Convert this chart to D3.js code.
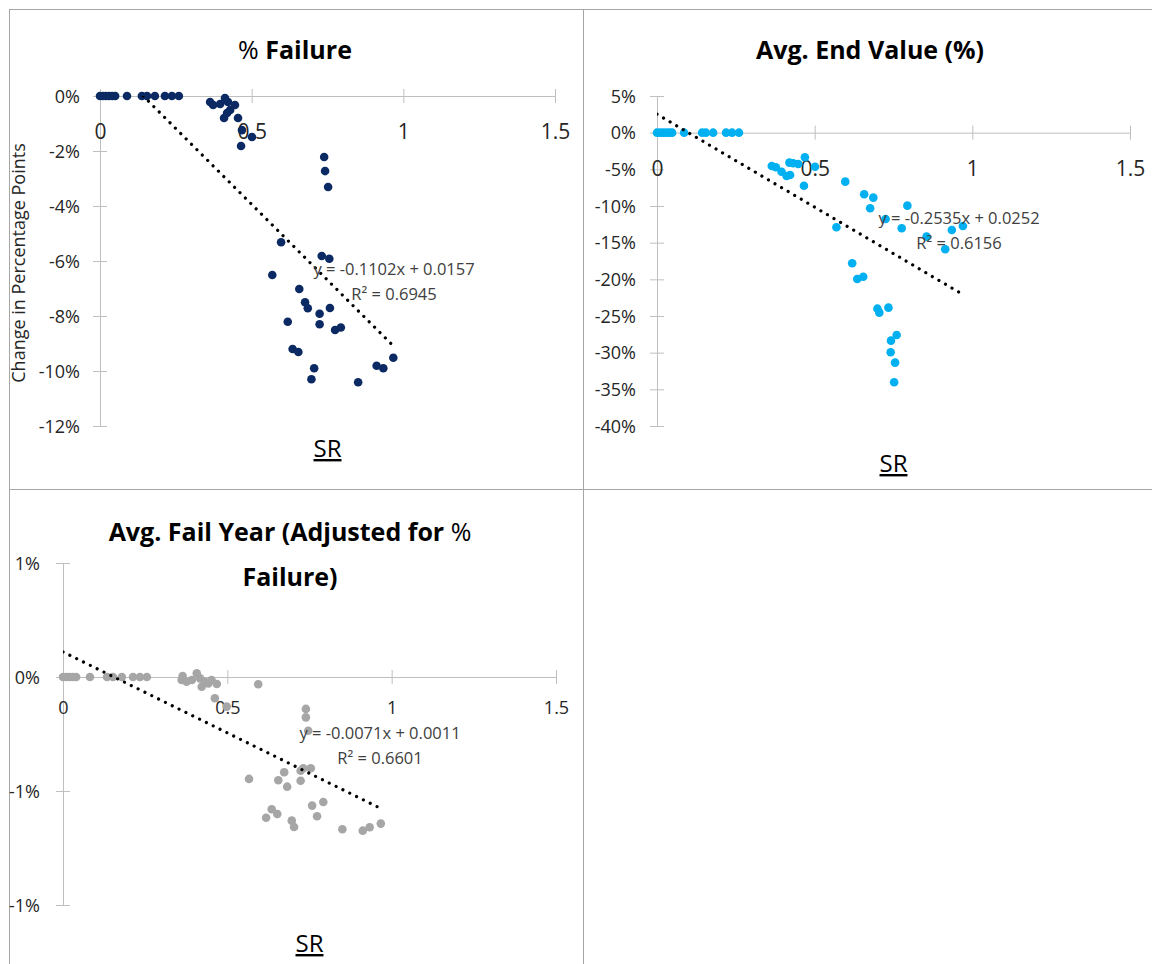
<!DOCTYPE html>
<html><head><meta charset="utf-8">
<script src="https://cdn.jsdelivr.net/npm/d3@7"></script>
<style>body{margin:0;background:#fff}svg{display:block}text{font-family:"Open Sans",Lato,sans-serif}</style>
</head><body>
<svg id="c" width="1152" height="964"></svg>
<script>
// ---------- data ----------
const xTicks = [0, 0.5, 1, 1.5];
const xTickLabels = ["0", "0.5", "1", "1.5"];

// Panel 1: % Failure (percentage points)
const sr1 = [0,0.01,0.02,0.03,0.04,0.05,0.089,0.138,0.155,0.181,0.214,0.237,0.26,
  0.363,0.373,0.396,0.412,0.422,0.429,0.445,0.419,0.409,0.455,0.468,0.501,0.465,
  0.739,0.742,0.752,
  0.597,0.731,0.756,0.568,0.657,0.676,0.685,0.758,0.724,0.619,0.724,0.775,0.794,0.635,0.654,0.967,0.912,0.934,0.706,0.697,0.851];
const fail1 = [0,0,0,0,0,0,0,0,0,0,0,0,0,
  -0.22,-0.33,-0.29,-0.07,-0.22,-0.51,-0.33,-0.62,-0.8,-0.8,-1.24,-1.49,-1.82,
  -2.22,-2.73,-3.31,
  -5.32,-5.82,-5.92,-6.51,-7.02,-7.5,-7.72,-7.71,-7.92,-8.21,-8.3,-8.51,-8.42,-9.2,-9.31,-9.52,-9.81,-9.9,-9.9,-10.3,-10.41];
const yTicks1 = [0,-2,-4,-6,-8,-10,-12];
const yTickLabels1 = ["0%","-2%","-4%","-6%","-8%","-10%","-12%"];
const trend1 = {slope:-0.1102, intercept:0.0157, r2:"0.6945"};

// Panel 2: Avg. End Value (%)
const sr2 = [0,0.01,0.02,0.03,0.04,0.048,0.086,0.143,0.155,0.178,0.219,0.238,0.26,
  0.364,0.377,0.395,0.411,0.422,0.42,0.432,0.448,0.469,0.501,0.466,
  0.597,0.657,0.686,0.676,0.794,0.725,0.776,0.569,0.935,0.97,0.855,0.914,0.619,0.635,0.654,0.699,0.705,0.734,0.76,0.742,0.741,0.755,0.752];
const end2 = [0,0,0,0,0,0,0,0,0,0,0,0,0,
  -4.54,-4.72,-5.32,-5.9,-5.77,-4.09,-4.17,-4.27,-3.35,-4.64,-7.23,
  -6.68,-8.4,-8.86,-10.3,-9.95,-11.77,-13.04,-12.9,-13.27,-12.72,-14.18,-15.9,-17.81,-19.95,-19.64,-24.0,-24.54,-23.86,-27.59,-28.36,-29.94,-31.36,-34.04];
const yTicks2 = [5,0,-5,-10,-15,-20,-25,-30,-35,-40];
const yTickLabels2 = ["5%","0%","-5%","-10%","-15%","-20%","-25%","-30%","-35%","-40%"];
const trend2 = {slope:-0.2535, intercept:0.0252, r2:"0.6156"};

// Panel 3: Avg. Fail Year (Adjusted for % Failure)
const sr3 = [0,0.01,0.02,0.03,0.04,0.082,0.134,0.152,0.179,0.213,0.234,0.255,
  0.364,0.361,0.376,0.392,0.407,0.417,0.422,0.432,0.442,0.452,0.468,0.462,0.498,0.594,
  0.739,0.739,0.746,
  0.566,0.655,0.682,0.673,0.723,0.723,0.731,0.754,0.758,0.792,0.773,0.635,0.652,0.618,0.696,0.703,0.85,0.912,0.933,0.967];
const year3 = [0,0,0,0,0,0,0,0,0,0,0,0,
  0.004,-0.013,-0.021,-0.013,0.016,-0.006,-0.043,-0.021,-0.028,-0.013,-0.031,-0.093,-0.13,-0.032,
  -0.14,-0.177,-0.236,
  -0.447,-0.453,-0.481,-0.418,-0.455,-0.411,-0.4,-0.4,-0.564,-0.548,-0.611,-0.58,-0.601,-0.617,-0.63,-0.658,-0.668,-0.674,-0.659,-0.643];
const yTicks3 = [0.5,0,-0.5,-1];
const yTickLabels3 = ["1%","0%","-1%","-1%"];
const trend3 = {slope:-0.0071, intercept:0.0011, r2:"0.6601"};

const trendXMax = 0.97;

// ---------- drawing ----------
const svg = d3.select("#c");
const grid = "#a6a6a6";
[[9,9.5,1152,9.5],[9.5,9,9.5,964],[583.5,9,583.5,964],[9,489.5,1152,489.5]].forEach(l=>{
  svg.append("line").attr("x1",l[0]).attr("y1",l[1]).attr("x2",l[2]).attr("y2",l[3])
    .attr("stroke",grid).attr("stroke-width",1);
});

function panel(cfg){
  const g = svg.append("g");
  const x = d3.scaleLinear().domain([0,1.5]).range(cfg.xr);
  const y = d3.scaleLinear().domain(cfg.yd).range(cfg.yr);
  const axisCol = "#bfbfbf";
  const ya = g.append("g").attr("transform",`translate(${x(0)},0)`)
    .call(d3.axisLeft(y).tickValues(cfg.yt).tickSizeOuter(0).tickSizeInner(0).tickFormat((d,i)=>cfg.ytl[i]));
  ya.select(".domain").attr("stroke",axisCol);
  ya.selectAll(".tick line").attr("x1",-7).attr("x2",7).attr("stroke",axisCol);
  ya.selectAll(".tick text").attr("x",-cfg.ylabGap).attr("dy","0.35em")
    .style("font-size",cfg.yfs+"px").attr("fill","#262626").style("font-family","'Open Sans',sans-serif");
  const xa = g.append("g").attr("transform",`translate(0,${y(0)})`)
    .call(d3.axisBottom(x).tickValues(xTicks).tickSizeOuter(0).tickSizeInner(0).tickFormat((d,i)=>xTickLabels[i]));
  xa.select(".domain").attr("stroke",axisCol);
  xa.selectAll(".tick line").attr("y1",-7).attr("y2",7).attr("stroke",axisCol);
  xa.selectAll(".tick text").attr("y",cfg.xlabOff).attr("dy","0.35em")
    .style("font-size",cfg.xfs+"px").attr("fill","#262626").style("font-family","'Open Sans',sans-serif");
  const cid = "clip"+cfg.id;
  svg.append("clipPath").attr("id",cid).append("rect")
    .attr("x",cfg.xr[0]).attr("y",cfg.yr[1]).attr("width",cfg.xr[1]-cfg.xr[0]).attr("height",cfg.yr[0]-cfg.yr[1]);
  g.append("g").selectAll("circle").data(cfg.xs.map((v,i)=>[v,cfg.ys[i]])).join("circle")
    .attr("cx",d=>x(d[0])).attr("cy",d=>y(d[1])).attr("r",4.3).attr("fill",cfg.color);
  const t = cfg.trend;
  const tl = [0,trendXMax].map(v=>[v,(t.slope*v+t.intercept)*100]);
  g.append("path").attr("clip-path",`url(#${cid})`)
    .attr("d",d3.line().x(d=>x(d[0])).y(d=>y(d[1]))(tl))
    .attr("fill","none").attr("stroke","#000").attr("stroke-width",3.2)
    .attr("stroke-linecap","round").attr("stroke-dasharray","0.01 7.6");
  const fmt = v=>Math.abs(v).toFixed(4);
  const eq = `y = ${t.slope<0?"-":""}${fmt(t.slope)}x + ${fmt(t.intercept)}`;
  g.append("text").attr("x",cfg.eq[0]).attr("y",cfg.eq[1]).attr("text-anchor","middle")
    .style("font-size","16.5px").attr("fill","#404040").text(eq);
  g.append("text").attr("x",cfg.eq[0]).attr("y",cfg.eq[1]+25).attr("text-anchor","middle")
    .style("font-size","16.5px").attr("fill","#404040").text("R\u00B2 = "+t.r2);
  cfg.title.forEach((parts,i)=>{
    const tx = g.append("text").attr("x",cfg.tpos[0]).attr("y",cfg.tpos[1]+i*45).attr("text-anchor","middle")
      .style("font-size","25px").attr("fill","#000");
    parts.forEach(p=>tx.append("tspan").style("font-weight",p[1]?"bold":"normal").text(p[0]));
  });
  g.append("text").attr("x",(cfg.xr[0]+cfg.xr[1])/2).attr("y",cfg.srY).attr("text-anchor","middle")
    .style("font-size","24px").style("text-decoration","underline").attr("fill","#000").text("SR");
  return g;
}

panel({id:1, xr:[100,555], yd:[-12,0], yr:[426,96], yt:yTicks1, ytl:yTickLabels1,
  xs:sr1, ys:fail1, color:"#0b2a63", trend:trend1, eq:[394,275],
  title:[[["% ",false],["Failure",true]]], tpos:[295,59], srY:457, ylabGap:20, yfs:18, xfs:21, xlabOff:36});
panel({id:2, xr:[657,1130], yd:[-40,5], yr:[426,96], yt:yTicks2, ytl:yTickLabels2,
  xs:sr2, ys:end2, color:"#00b0f0", trend:trend2, eq:[959,224],
  title:[[["Avg. End Value (%)",true]]], tpos:[870,59], srY:472, ylabGap:21, yfs:18, xfs:21, xlabOff:36});
panel({id:3, xr:[63,556], yd:[-1,0.5], yr:[905,563], yt:yTicks3, ytl:yTickLabels3,
  xs:sr3, ys:year3, color:"#a6a6a6", trend:trend3, eq:[380,739],
  title:[[["Avg. Fail Year (Adjusted for ",true],["%",false]],[["Failure)",true]]], tpos:[290,541], srY:952, ylabGap:23, yfs:18, xfs:18, xlabOff:31});

svg.append("text").attr("transform","translate(25,263) rotate(-90)").attr("text-anchor","middle")
  .style("font-size","18px").attr("fill","#262626").text("Change in Percentage Points");
</script>
</body></html>
